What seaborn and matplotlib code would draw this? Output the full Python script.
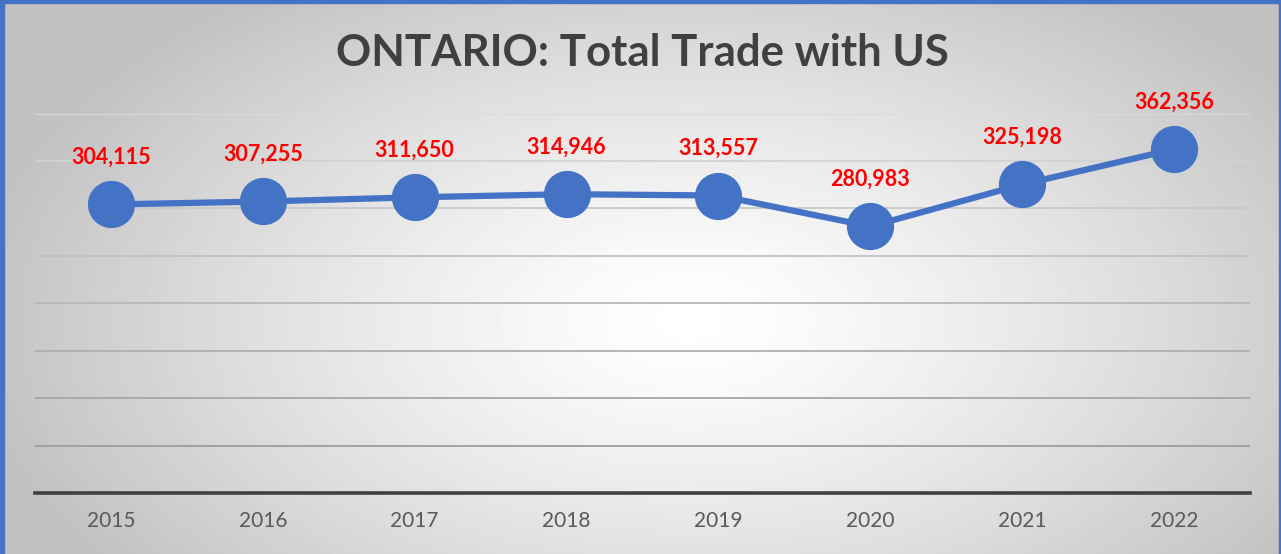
import numpy as np
import pandas as pd
import seaborn as sns
import matplotlib.pyplot as plt
from matplotlib.patches import Rectangle

years = ["2015", "2016", "2017", "2018", "2019", "2020", "2021", "2022"]
trade = [304115, 307255, 311650, 314946, 313557, 280983, 325198, 362356]
labels = ["304,115", "307,255", "311,650", "314,946", "313,557", "280,983", "325,198", "362,356"]

df = pd.DataFrame({"Year": years, "Trade": trade})

sns.set_style("white")
plt.rcParams["font.family"] = ["Lato", "DejaVu Sans"]

W, H = 1281, 554
fig = plt.figure(figsize=(W / 100, H / 100), dpi=100)

# radial gradient background
bg = fig.add_axes([0, 0, 1, 1], zorder=-5)
yy, xx = np.mgrid[0:H, 0:W]
r = np.sqrt(((xx - 690) / 740.0) ** 2 + ((yy - 320) / 420.0) ** 2)
shade = np.clip(1.0 - 0.25 * r ** 1.3, 0.76, 1.0)
bg.imshow(shade, cmap="gray", vmin=0, vmax=1, aspect="auto", extent=[0, 1, 0, 1])
bg.set_axis_off()

# blue frame
blue = "#4472C4"
fig.patches.append(Rectangle((0, 0), 4 / W, 1, transform=fig.transFigure, color=blue, zorder=10))
fig.patches.append(Rectangle((0, 1 - 2.5 / H), 1, 2.5 / H, transform=fig.transFigure, color=blue, zorder=10))
fig.patches.append(Rectangle((1 - 2.5 / W, 0), 2.5 / W, 1, transform=fig.transFigure, color=blue, zorder=10))

ax = fig.add_axes([35 / W, 1 - 493 / H, (1250 - 35) / W, (493 - 113.5) / H])
ax.patch.set_alpha(0)

sns.lineplot(data=df, x="Year", y="Trade", ax=ax, color=blue, linewidth=4.5,
             marker="o", markersize=34, markeredgewidth=0, sort=False, zorder=3)

ax.set_xlim(-0.5, len(years) - 0.5)
ax.set_ylim(0, 400000)
ax.set_yticks(np.arange(0, 400001, 50000))
ax.set_yticklabels([])
ax.tick_params(axis="y", length=0)
ax.tick_params(axis="x", length=0, labelsize=15, colors="#595959", pad=13)
ax.set_xlabel("")
ax.set_ylabel("")

ax.grid(axis="y", linewidth=1.3)
glines = ax.get_ygridlines()
for i, gl in enumerate(glines):
    c = 0.86 - 0.28 * (1 - i / (len(glines) - 1))
    gl.set_color((c, c, c))
for s in ["left", "right", "top"]:
    ax.spines[s].set_visible(False)
ax.spines["bottom"].set_color("#404040")
ax.spines["bottom"].set_linewidth(2.6)
ax.spines["bottom"].set_zorder(4)

for i, (v, lab) in enumerate(zip(trade, labels)):
    ax.annotate(lab, (i, v), xytext=(0, 34), textcoords="offset points",
                ha="center", va="center", color="#FF0000", fontsize=15.5, fontweight="bold")

fig.text(642 / W, 1 - 53 / H, "ONTARIO: Total Trade with US", ha="center", va="center",
         fontsize=31.5, fontweight="bold", color="#404040")

fig.savefig("out.png", dpi=100)
